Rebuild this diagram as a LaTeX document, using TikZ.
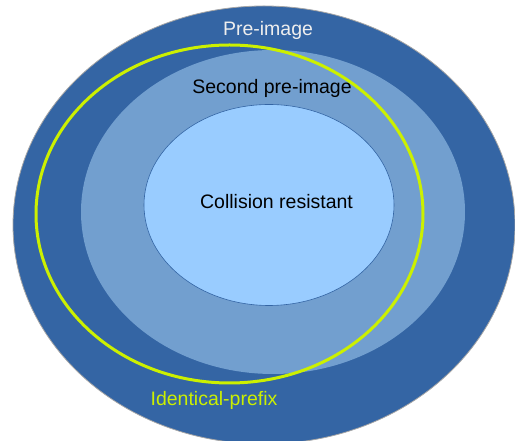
\documentclass[tikz,border=0pt]{standalone}
\usepackage{fontspec}
\setmainfont{Liberation Sans}
\definecolor{outerblue}{HTML}{3465A4}
\definecolor{midblue}{HTML}{729FCF}
\definecolor{innerblue}{HTML}{99CCFF}
\definecolor{lime}{HTML}{CCF000}
\definecolor{lightgray}{HTML}{EEEEEE}
\tikzset{
  lbl/.style={font=\fontsize{19.5}{22}\selectfont, inner sep=0pt, anchor=base},
}
\begin{document}
\begin{tikzpicture}[x=1pt,y=1pt]
\useasboundingbox (0,0) rectangle (515,441);
% outer: pre-image
\path[fill=outerblue, draw=gray!70, line width=0.8pt] (264,216) ellipse [x radius=251, y radius=219];
% middle: second pre-image
\path[fill=midblue] (273,229) ellipse [x radius=192, y radius=162];
% inner: collision resistant
\path[fill=innerblue, draw=outerblue, line width=0.6pt] (269,236) ellipse [x radius=125, y radius=100.5];
% identical-prefix
\draw[lime, line width=3pt] (229.5,227) ellipse [x radius=193.5, y radius=169];
\node[lbl, text=lightgray] (pre) at (268,405) {Pre-image};
\node[lbl, text=black] (second) at (272,347) {Second pre-image};
\node[lbl, text=black] (coll) at (276.5,232) {Collision resistant};
\node[lbl, text=lime] (ident) at (214,35) {Identical-prefix};
\end{tikzpicture}
\end{document}
